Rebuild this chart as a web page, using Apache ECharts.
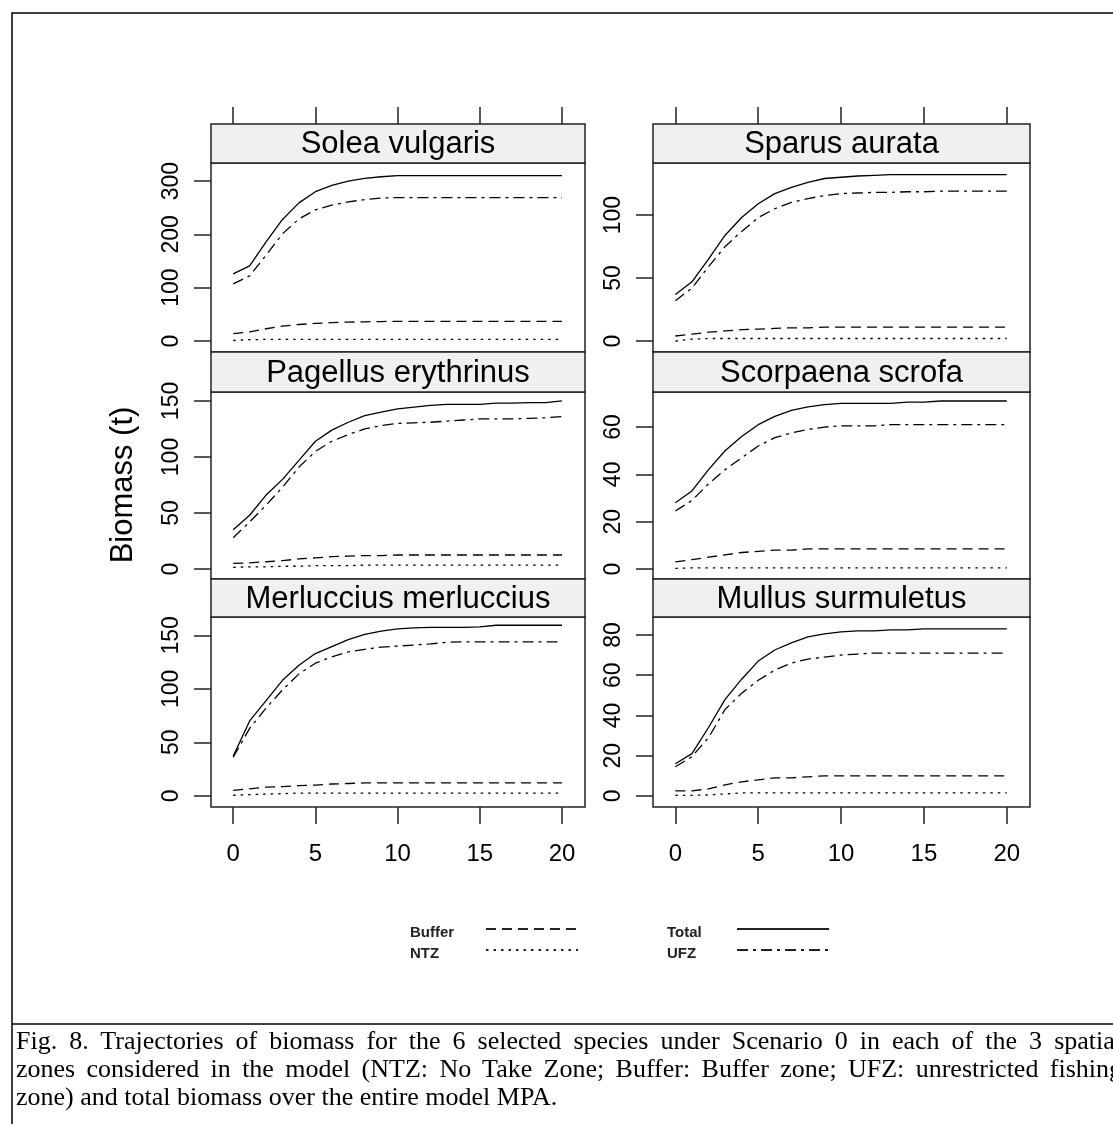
<!DOCTYPE html>
<html>
<head>
<meta charset="utf-8">
<title>Biomass trajectories</title>
<script src="https://cdn.jsdelivr.net/npm/echarts@6/dist/echarts.min.js"></script>
<style>
  html, body { margin: 0; padding: 0; background: #fff; overflow: hidden; }
  #chart { width: 1113px; height: 1124px; }
  .cap { position: absolute; left: 16px; width: 1106px; font-family: 'Liberation Serif', 'Times New Roman', serif;
         font-size: 26px; line-height: 28px; color: #000; }
  .just { text-align: justify; text-align-last: justify; }
</style>
</head>
<body>
<div id="chart"></div>
<div class="cap just" style="top:1027px">Fig. 8. Trajectories of biomass for the 6 selected species under Scenario 0 in each of the 3 spatial</div>
<div class="cap just" style="top:1055px">zones considered in the model (NTZ: No Take Zone; Buffer: Buffer zone; UFZ: unrestricted fishing</div>
<div class="cap" style="top:1083px">zone) and total biomass over the entire model MPA.</div>
<script>
// years of simulation
const years = [0, 1, 2, 3, 4, 5, 6, 7, 8, 9, 10, 11, 12, 13, 14, 15, 16, 17, 18, 19, 20];
const xTicks = [0, 5, 10, 15, 20];

const species = ['Solea vulgaris', 'Sparus aurata', 'Pagellus erythrinus',
                 'Scorpaena scrofa', 'Merluccius merluccius', 'Mullus surmuletus'];

// Solea vulgaris
const soleaTotal  = [126, 141, 186, 228, 259, 280, 292, 300, 305, 308, 310, 310, 310, 310, 310, 310, 310, 310, 310, 310, 310];
const soleaUFZ    = [107, 122, 161, 201, 229, 246, 255, 261, 265, 268, 269, 269, 269, 269, 269, 269, 269, 269, 269, 269, 269];
const soleaBuffer = [14, 17, 23, 28, 31, 33, 34.5, 35.5, 36, 36.5, 37, 37, 37, 37, 37, 37, 37, 37, 37, 37, 37];
const soleaNTZ    = [1, 2.5, 3, 3, 3, 3, 3, 3, 3, 3, 3, 3, 3, 3, 3, 3, 3, 3, 3, 3, 3];

// Sparus aurata
const sparusTotal  = [37, 47, 65, 84, 98, 109, 117, 122, 126, 129, 130, 131, 131.5, 132, 132, 132, 132, 132, 132, 132, 132];
const sparusUFZ    = [32, 42, 59, 75, 87, 98, 105, 110, 113, 115.5, 117, 117.5, 118, 118, 118.5, 118.5, 119, 119, 119, 119, 119];
const sparusBuffer = [4, 5.5, 7, 8, 9, 9.5, 10, 10.5, 10.5, 11, 11, 11, 11, 11, 11, 11, 11, 11, 11, 11, 11];
const sparusNTZ    = [0, 1.5, 2, 2, 2, 2, 2, 2, 2, 2, 2, 2, 2, 2, 2, 2, 2, 2, 2, 2, 2];

// Pagellus erythrinus
const pagellusTotal  = [35, 48, 66, 80, 97, 114, 124, 131, 137, 140, 143, 144.5, 146, 147, 147, 147, 148, 148, 148.5, 148.5, 150];
const pagellusUFZ    = [28, 42, 57, 73, 91, 105, 114, 120, 125, 128, 130, 130.5, 131, 132, 133, 134, 134, 134, 134.5, 135, 136];
const pagellusBuffer = [5, 5.5, 6.5, 7.5, 9, 10, 11, 11.5, 12, 12, 12.5, 12.5, 12.5, 12.5, 12.5, 12.5, 12.5, 12.5, 12.5, 12.5, 12.5];
const pagellusNTZ    = [1.5, 2, 2, 2.5, 2.5, 3, 3, 3, 3.5, 3.5, 3.5, 3.5, 3.5, 3.5, 3.5, 3.5, 3.5, 3.5, 3.5, 3.5, 3.5];

// Scorpaena scrofa
const scorpaenaTotal  = [28, 33, 42, 50, 56, 61, 64.5, 67, 68.5, 69.5, 70, 70, 70, 70, 70.5, 70.5, 71, 71, 71, 71, 71];
const scorpaenaUFZ    = [24.5, 29, 36, 42, 47, 52, 55.5, 57.5, 59, 60, 60.5, 60.5, 60.5, 61, 61, 61, 61, 61, 61, 61, 61];
const scorpaenaBuffer = [3, 4, 5, 6, 7, 7.5, 8, 8, 8.5, 8.5, 8.5, 8.5, 8.5, 8.5, 8.5, 8.5, 8.5, 8.5, 8.5, 8.5, 8.5];
const scorpaenaNTZ    = [0.3, 0.5, 0.5, 0.5, 0.5, 0.5, 0.5, 0.5, 0.5, 0.5, 0.5, 0.5, 0.5, 0.5, 0.5, 0.5, 0.5, 0.5, 0.5, 0.5, 0.5];

// Merluccius merluccius
const merlucciusTotal  = [37, 70, 89, 108, 122, 133, 139.5, 146, 151, 154, 156, 157, 157.5, 157.5, 157.5, 158, 159.5, 159.5, 159.5, 159.5, 159.5];
const merlucciusUFZ    = [36, 63, 82, 99, 114, 124, 130, 134.5, 137, 139, 140, 141, 142, 143.5, 144, 144, 144, 144, 144, 144, 144];
const merlucciusBuffer = [5, 6.5, 8, 8.5, 9.5, 10, 11, 11.5, 12, 12, 12, 12, 12, 12, 12, 12, 12, 12, 12, 12, 12];
const merlucciusNTZ    = [0.5, 1, 1.5, 2, 2.5, 2.5, 2.5, 2.5, 2.5, 2.5, 2.5, 2.5, 2.5, 2.5, 2.5, 2.5, 2.5, 2.5, 2.5, 2.5, 2.5];

// Mullus surmuletus
const mullusTotal  = [16, 21, 34, 48, 58, 67, 72.5, 76, 79, 80.5, 81.5, 82, 82, 82.5, 82.5, 83, 83, 83, 83, 83, 83];
const mullusUFZ    = [14.5, 19.5, 29, 43, 51, 57.5, 62.5, 66, 68, 69, 70, 70.5, 71, 71, 71, 71, 71, 71, 71, 71, 71];
const mullusBuffer = [2.5, 2.5, 3.5, 5.5, 7, 8, 9, 9, 9.5, 10, 10, 10, 10, 10, 10, 10, 10, 10, 10, 10, 10];
const mullusNTZ    = [0.3, 0.3, 0.5, 1, 1.5, 1.5, 1.5, 1.5, 1.5, 1.5, 1.5, 1.5, 1.5, 1.5, 1.5, 1.5, 1.5, 1.5, 1.5, 1.5, 1.5];

// y tick labels per panel
const soleaTicks = [0, 100, 200, 300];
const sparusTicks = [0, 50, 100];
const pagellusTicks = [0, 50, 100, 150];
const scorpaenaTicks = [0, 20, 40, 60];
const merlucciusTicks = [0, 50, 100, 150];
const mullusTicks = [0, 20, 40, 60, 80];

const zones = ['Total', 'UFZ', 'Buffer', 'NTZ'];
const panelData = [
  [soleaTotal, soleaUFZ, soleaBuffer, soleaNTZ],
  [sparusTotal, sparusUFZ, sparusBuffer, sparusNTZ],
  [pagellusTotal, pagellusUFZ, pagellusBuffer, pagellusNTZ],
  [scorpaenaTotal, scorpaenaUFZ, scorpaenaBuffer, scorpaenaNTZ],
  [merlucciusTotal, merlucciusUFZ, merlucciusBuffer, merlucciusNTZ],
  [mullusTotal, mullusUFZ, mullusBuffer, mullusNTZ]
];
const panelTicks = [soleaTicks, sparusTicks, pagellusTicks, scorpaenaTicks, merlucciusTicks, mullusTicks];
// axis extents (lattice pads the data range)
const yMin = [-20.6, -8.7, -8.9, -4.2, -10.5, -5.5];
const yMax = [333.8, 141.3, 158, 74.8, 167.2, 88.9];
const xMin = -1.35, xMax = 21.4;

// layout
const colLeft = [211, 653];
const colWidth = [374, 377];
const rowTop = [163, 392, 617];
const rowHeight = [189, 187, 190];
const stripTop = [124, 352, 579];

const FONT = "'Liberation Sans', Arial, sans-serif";
const dashes = {
  Total: 'solid',
  UFZ: [11, 5, 3, 5],
  Buffer: [10, 6],
  NTZ: [2.5, 5]
};
const tickStyle = { color: '#222', width: 1.5 };

const grids = [], xAxes = [], yAxes = [], series = [], graphics = [];

species.forEach(function (name, i) {
  const col = i % 2, row = Math.floor(i / 2);
  grids.push({
    left: colLeft[col], top: rowTop[row], width: colWidth[col], height: rowHeight[row],
    show: true, borderColor: '#222', borderWidth: 1.5, backgroundColor: 'transparent'
  });

  const bottomIdx = xAxes.length;
  xAxes.push({
    type: 'value', gridIndex: i, min: xMin, max: xMax, position: 'bottom',
    show: row === 2,
    axisLine: { show: false, onZero: false }, splitLine: { show: false },
    axisTick: { customValues: xTicks, length: 17, lineStyle: tickStyle },
    axisLabel: { customValues: xTicks, margin: 35, fontSize: 24, color: '#000', fontFamily: FONT }
  });
  if (row === 0) {
    xAxes.push({
      type: 'value', gridIndex: i, min: xMin, max: xMax, position: 'top',
      offset: rowTop[0] - stripTop[0],
      axisLine: { show: false, onZero: false }, splitLine: { show: false },
      axisTick: { customValues: xTicks, length: 17, lineStyle: tickStyle },
      axisLabel: { show: false }
    });
  }

  yAxes.push({
    type: 'value', gridIndex: i, min: yMin[i], max: yMax[i], position: 'left',
    axisLine: { show: false, onZero: false }, splitLine: { show: false },
    axisTick: { customValues: panelTicks[i], length: 17, lineStyle: tickStyle },
    axisLabel: { customValues: panelTicks[i], rotate: 90, margin: 28, fontSize: 23, color: '#000', fontFamily: FONT }
  });

  zones.forEach(function (z, k) {
    series.push({
      name: z, type: 'line', xAxisIndex: bottomIdx, yAxisIndex: i,
      data: years.map(function (yr, j) { return [yr, panelData[i][k][j]]; }),
      symbol: 'none', silent: true,
      lineStyle: { color: '#000', width: 1.3, type: dashes[z] }
    });
  });

  // strip with species name
  graphics.push({
    type: 'rect', silent: true, z: 10,
    shape: { x: colLeft[col], y: stripTop[row], width: colWidth[col], height: rowTop[row] - stripTop[row] },
    style: { fill: '#f0f0f0', stroke: '#222', lineWidth: 1.5 }
  });
  graphics.push({
    type: 'text', silent: true, z: 11,
    x: colLeft[col] + colWidth[col] / 2, y: (stripTop[row] + rowTop[row]) / 2 + 1,
    style: { text: name, font: '31px ' + FONT, fill: '#000', align: 'center', verticalAlign: 'middle',
             textAlign: 'center', textVerticalAlign: 'middle' }
  });
});

// outer frame and caption separator
graphics.push({
  type: 'polyline', silent: true,
  shape: { points: [[12, 1130], [12, 13], [1120, 13]] },
  style: { fill: null, stroke: '#000', lineWidth: 1.5 }
});
graphics.push({
  type: 'line', silent: true,
  shape: { x1: 12, y1: 1024, x2: 1120, y2: 1024 },
  style: { stroke: '#000', lineWidth: 1.5 }
});

// y axis title
graphics.push({
  type: 'text', silent: true, x: 123, y: 485, rotation: Math.PI / 2,
  style: { text: 'Biomass (t)', font: '31px ' + FONT, fill: '#000', align: 'center', verticalAlign: 'middle',
           textAlign: 'center', textVerticalAlign: 'middle' }
});

// key
const keyItems = [
  { label: 'Buffer', x: 410, y: 931, lx: 486 },
  { label: 'NTZ', x: 410, y: 952, lx: 486 },
  { label: 'Total', x: 667, y: 931, lx: 737 },
  { label: 'UFZ', x: 667, y: 952, lx: 737 }
];
keyItems.forEach(function (it) {
  graphics.push({
    type: 'text', silent: true, x: it.x, y: it.y + 2,
    style: { text: it.label, font: 'bold 15px ' + FONT, fill: '#222', align: 'left', verticalAlign: 'middle',
             textAlign: 'left', textVerticalAlign: 'middle' }
  });
  const d = dashes[it.label];
  graphics.push({
    type: 'line', silent: true,
    shape: { x1: it.lx, y1: it.y - 2, x2: it.lx + 92, y2: it.y - 2 },
    style: { stroke: '#222', lineWidth: 2, lineDash: d === 'solid' ? null : d }
  });
});

const chart = echarts.init(document.getElementById('chart'), null, { renderer: 'canvas' });
chart.setOption({
  animation: false,
  backgroundColor: '#fff',
  grid: grids,
  xAxis: xAxes,
  yAxis: yAxes,
  series: series,
  graphic: graphics
});
</script>
</body>
</html>
